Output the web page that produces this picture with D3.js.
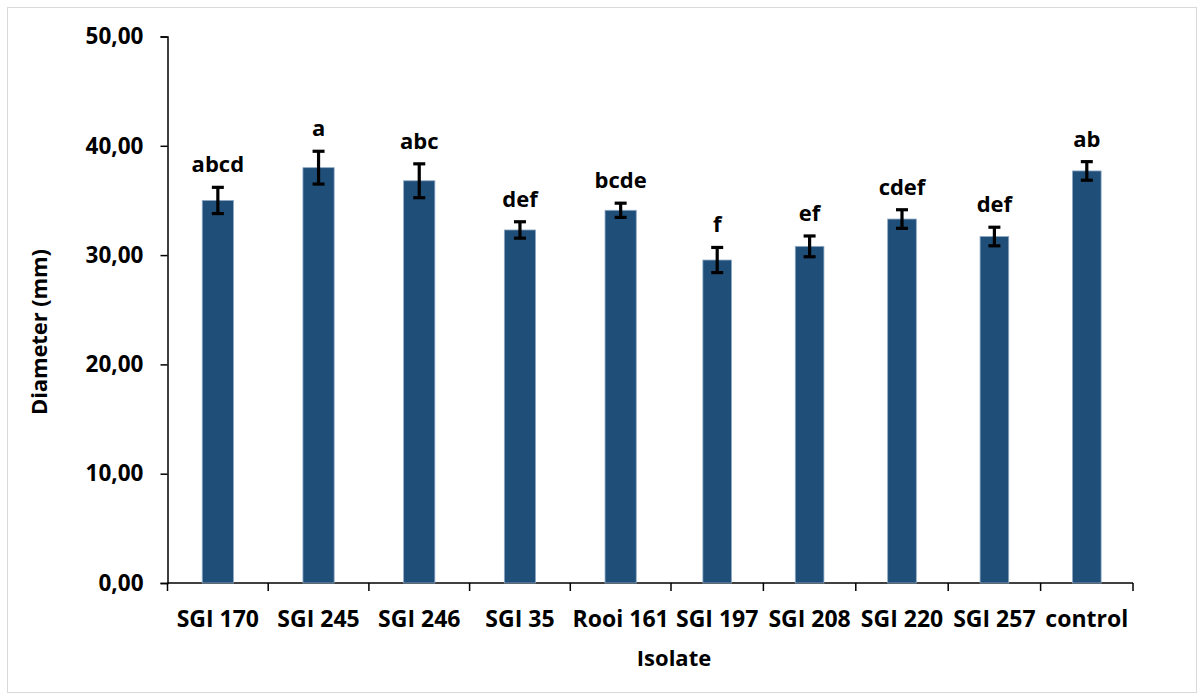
<!DOCTYPE html>
<html>
<head>
<meta charset="utf-8">
<script src="https://cdn.jsdelivr.net/npm/d3@7"></script>
<style>
  body { margin: 0; background: #fff; }
  text { font-family: "Open Sans", sans-serif; font-weight: 700; fill: #000; }
</style>
</head>
<body>
<svg id="chart" width="1204" height="700"></svg>
<script>

const isolates = ['SGI 170', 'SGI 245', 'SGI 246', 'SGI 35', 'Rooi 161', 'SGI 197', 'SGI 208', 'SGI 220', 'SGI 257', 'control'];
const diameters = [35.0, 38.0, 36.8, 32.3, 34.1, 29.55, 30.8, 33.3, 31.7, 37.7];
const std_errors = [1.2, 1.5, 1.55, 0.75, 0.65, 1.15, 0.95, 0.85, 0.85, 0.85];
const groups = ['abcd', 'a', 'abc', 'def', 'bcde', 'f', 'ef', 'cdef', 'def', 'ab'];
const y_ticks = [0, 10, 20, 30, 40, 50];

const BAR_COLOR = '#1f4e79';

const svg = d3.select('#chart');

// outer frame
svg.append('rect')
  .attr('x', 7.5).attr('y', 7.5)
  .attr('width', 1189).attr('height', 685)
  .attr('fill', 'none')
  .attr('stroke', '#d9d9d9')
  .attr('stroke-width', 1);

// category index -> x (the source picture is a bit wider on its left half)
const x_index = d3.scaleLinear()
  .domain([0, 5, 10])
  .range([167.5, 671, 1133]);

const y = d3.scaleLinear()
  .domain([0, 50])
  .range([583, 36.5]);

function cat_center(i) { return (x_index(i) + x_index(i + 1)) / 2; }
function cat_width(i) { return x_index(i + 1) - x_index(i); }

// y axis
const y_axis = d3.axisLeft(y)
  .tickValues(y_ticks)
  .tickSize(7)
  .tickFormat(d => d3.format('.2f')(d).replace('.', ','));

const $y_axis = svg.append('g')
  .attr('transform', 'translate(167.5,0)')
  .call(y_axis);
$y_axis.select('.domain').attr('stroke', '#000').attr('stroke-width', 1.5);
$y_axis.selectAll('.tick line').attr('stroke', '#000').attr('stroke-width', 1.5);
$y_axis.selectAll('.tick text')
  .attr('x', -24)
  .style('font-size', '22.5px')
  .style('font-family', '"Open Sans", sans-serif')
  .style('font-weight', 700);

// x axis line + ticks
svg.append('line')
  .attr('x1', x_index(0)).attr('x2', x_index(10))
  .attr('y1', y(0)).attr('y2', y(0))
  .attr('stroke', '#000').attr('stroke-width', 1.5);

svg.append('g').selectAll('line')
  .data(d3.range(11))
  .join('line')
  .attr('x1', d => x_index(d)).attr('x2', d => x_index(d))
  .attr('y1', y(0)).attr('y2', y(0) + 8)
  .attr('stroke', '#000').attr('stroke-width', 1.5);

// bars
svg.append('g').selectAll('rect')
  .data(diameters)
  .join('rect')
  .attr('x', (d, i) => cat_center(i) - cat_width(i) * 0.155)
  .attr('width', (d, i) => cat_width(i) * 0.31)
  .attr('y', d => y(d))
  .attr('height', d => y(0) - y(d))
  .attr('fill', BAR_COLOR)
  .attr('stroke', '#8fa9c4')
  .attr('stroke-width', 0.8);

// error bars
const $errors = svg.append('g')
  .attr('stroke', '#000')
  .attr('stroke-width', 3.2);

diameters.forEach(function (d, i) {
  const cx = cat_center(i);
  const top = y(d + std_errors[i]);
  const bottom = y(d - std_errors[i]);
  $errors.append('line').attr('x1', cx).attr('x2', cx).attr('y1', top).attr('y2', bottom);
  $errors.append('line').attr('x1', cx - 6).attr('x2', cx + 6).attr('y1', top).attr('y2', top);
  $errors.append('line').attr('x1', cx - 6).attr('x2', cx + 6).attr('y1', bottom).attr('y2', bottom);
});

// significance letters
svg.append('g').selectAll('text')
  .data(groups)
  .join('text')
  .attr('x', (d, i) => cat_center(i))
  .attr('y', (d, i) => y(diameters[i] + std_errors[i]) - 15)
  .attr('text-anchor', 'middle')
  .style('font-size', '22px')
  .text(d => d);

// category labels
svg.append('g').selectAll('text')
  .data(isolates)
  .join('text')
  .attr('x', (d, i) => cat_center(i))
  .attr('y', 627)
  .attr('text-anchor', 'middle')
  .style('font-size', '23px')
  .text(d => d);

// axis titles
svg.append('text')
  .attr('x', 674).attr('y', 666)
  .attr('text-anchor', 'middle')
  .style('font-size', '22px')
  .text('Isolate');

svg.append('text')
  .attr('transform', 'translate(47,332) rotate(-90)')
  .attr('text-anchor', 'middle')
  .style('font-size', '22px')
  .attr('textLength', 166)
  .attr('lengthAdjust', 'spacing')
  .text('Diameter (mm)');

</script>
</body>
</html>
